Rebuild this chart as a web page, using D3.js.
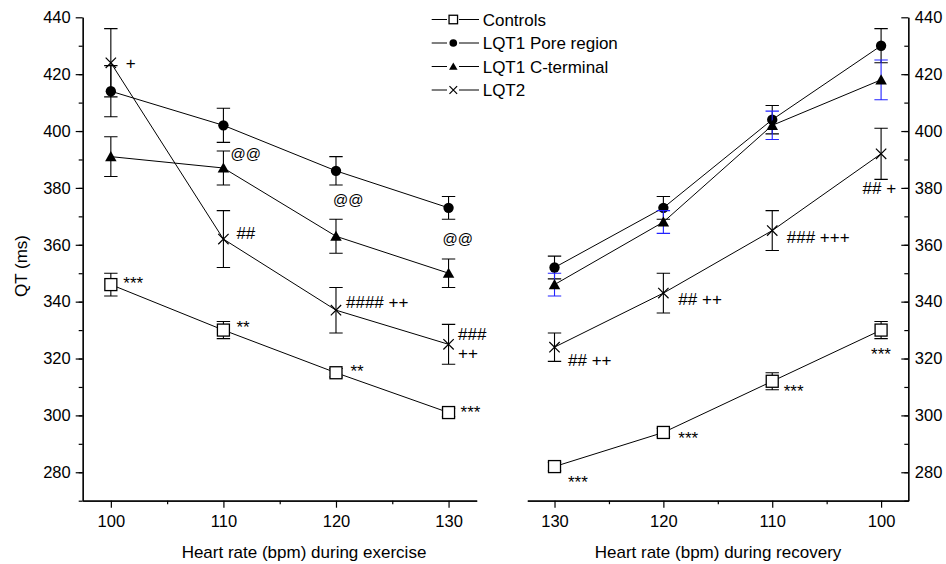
<!DOCTYPE html>
<html>
<head>
<meta charset="utf-8">
<script src="https://cdn.jsdelivr.net/npm/d3@7"></script>
<style>
  body { margin: 0; background: #fff; }
  text { font-family: "Liberation Sans", Arial, sans-serif; }
</style>
</head>
<body>
<script>
const WIDTH = 946;
const HEIGHT = 564;

// heart rate categories
const exerciseRates = [100, 110, 120, 130];
const recoveryRates = [130, 120, 110, 100];
const seriesNames = ['Controls', 'LQT1 Pore region', 'LQT1 C-terminal', 'LQT2'];
const yTicks = [280, 300, 320, 340, 360, 380, 400, 420, 440];

// QT (ms), exercise
const exControls = [346, 330, 315, 301];
const exControlsErr = [4, 3, 1.5, 1.5];
const exPore = [414, 402, 386, 373];
const exPoreErr = [9, 6, 5, 4];
const exCterm = [391, 387, 363, 350];
const exCtermErr = [7, 6, 6, 5];
const exLqt2 = [424, 362, 337, 325];
const exLqt2Err = [12, 10, 8, 7];

// QT (ms), recovery
const recControls = [282, 294, 312, 330];
const recControlsErr = [1.5, 1.5, 3, 3];
const recPore = [352, 373, 404, 430];
const recPoreErr = [4, 4, 5, 6];
const recCterm = [346, 368, 402, 418];
const recCtermErr = [4, 4, 5, 7];
const recLqt2 = [324, 343, 365, 392];
const recLqt2Err = [5, 7, 7, 9];

// significance marks: [panel, series, point index, text]
const notes = [
  ['ex', 3, 0, '+'], ['ex', 0, 0, '***'], ['ex', 2, 1, '@@'], ['ex', 3, 1, '##'],
  ['ex', 0, 1, '**'], ['ex', 1, 2, '@@'], ['ex', 1, 3, '@@'], ['ex', 3, 2, '#### ++'],
  ['ex', 3, 3, '###'], ['ex', 3, 3, '++'], ['ex', 0, 2, '**'], ['ex', 0, 3, '***'],
  ['rec', 3, 0, '## ++'], ['rec', 3, 1, '## ++'], ['rec', 3, 2, '### +++'], ['rec', 3, 3, '## +'],
  ['rec', 0, 0, '***'], ['rec', 0, 1, '***'], ['rec', 0, 2, '***'], ['rec', 0, 3, '***'],
];
// pixel offsets of each mark from its point
const noteOffsets = [
  [15, 5.8], [12.5, 4], [7, -9.3], [13, 0.3],
  [13, 2.8], [-3, 34.6], [-6, 36.6], [10, -2.1],
  [9.5, -4.2], [9.5, 14.3], [14.5, 4.2], [12, 5.5],
  [13.5, 18.7], [15, 12], [14.5, 12.9], [-18.5, 40.2],
  [13.5, 21.4], [15, 11.2], [11.5, 15.7], [-10, 30.2],
];

const svg = d3.select('body').append('svg')
  .attr('width', WIDTH)
  .attr('height', HEIGHT)
  .style('background', '#fff');

const y = d3.scaleLinear().domain([270, 440]).range([500.7, 17.3]);
const xEx = d3.scaleLinear().domain([97.5, 132.5]).range([82.7, 476.7]);
const xRec = d3.scaleLinear().domain([132.5, 97.5]).range([527.3, 908.3]);

function styleAxis(g) {
  g.attr('font-family', null).attr('font-size', null);
  g.selectAll('path, line').attr('stroke', '#000').attr('stroke-width', 1.2);
  g.selectAll('text').style('font-size', '16.5px').attr('fill', '#000');
}

// left panel axes
svg.append('g').attr('transform', 'translate(82.7,0)')
  .call(d3.axisLeft(y).tickValues(d3.range(270, 440, 10)).tickSize(4).tickSizeOuter(0).tickFormat(''))
  .call(styleAxis);
svg.append('g').attr('transform', 'translate(82.7,0)')
  .call(d3.axisLeft(y).tickValues(yTicks).tickSize(7).tickPadding(5).tickSizeOuter(0))
  .call(styleAxis);
svg.append('g').attr('transform', 'translate(0,500.7)')
  .call(d3.axisBottom(xEx).tickValues([105, 115, 125]).tickSize(3.5).tickSizeOuter(0).tickFormat(''))
  .call(styleAxis);
svg.append('g').attr('transform', 'translate(0,500.7)')
  .call(d3.axisBottom(xEx).tickValues(exerciseRates).tickSize(7).tickPadding(8).tickSizeOuter(0))
  .call(styleAxis);

// right panel axes
svg.append('g').attr('transform', 'translate(908.3,0)')
  .call(d3.axisRight(y).tickValues(d3.range(270, 440, 10)).tickSizeInner(-4).tickSizeOuter(0).tickFormat(''))
  .call(styleAxis);
svg.append('g').attr('transform', 'translate(908.3,0)')
  .call(d3.axisRight(y).tickValues(yTicks).tickSizeInner(-7).tickPadding(6.5).tickSizeOuter(0))
  .call(styleAxis);
svg.append('g').attr('transform', 'translate(0,500.7)')
  .call(d3.axisBottom(xRec).tickValues([125, 115, 105]).tickSize(3.5).tickSizeOuter(0).tickFormat(''))
  .call(styleAxis);
svg.append('g').attr('transform', 'translate(0,500.7)')
  .call(d3.axisBottom(xRec).tickValues(recoveryRates).tickSize(7).tickPadding(8).tickSizeOuter(0))
  .call(styleAxis);

// axis titles
svg.append('text')
  .attr('transform', 'translate(27,266) rotate(-90)')
  .attr('text-anchor', 'middle')
  .style('font-size', '17px')
  .text('QT (ms)');
svg.append('text')
  .attr('x', 304).attr('y', 558)
  .attr('text-anchor', 'middle')
  .style('font-size', '17px')
  .text('Heart rate (bpm) during exercise');
svg.append('text')
  .attr('x', 718).attr('y', 558)
  .attr('text-anchor', 'middle')
  .style('font-size', '17px')
  .text('Heart rate (bpm) during recovery');

// markers
function drawMarker(g, kind, cx, cy, s) {
  if (kind === 0) {
    g.append('rect')
      .attr('x', cx - s / 2).attr('y', cy - s / 2)
      .attr('width', s).attr('height', s)
      .attr('fill', '#fff').attr('stroke', '#000').attr('stroke-width', 1.3);
  } else if (kind === 1) {
    g.append('circle')
      .attr('cx', cx).attr('cy', cy).attr('r', s * 0.45)
      .attr('fill', '#000');
  } else if (kind === 2) {
    const h = s * 0.88;
    g.append('path')
      .attr('d', `M${cx},${cy - h * 0.55}L${cx + s / 2},${cy + h * 0.45}L${cx - s / 2},${cy + h * 0.45}Z`)
      .attr('fill', '#000');
  } else {
    const r = s * 0.45;
    g.append('path')
      .attr('d', `M${cx - r},${cy - r}L${cx + r},${cy + r}M${cx - r},${cy + r}L${cx + r},${cy - r}`)
      .attr('stroke', '#000').attr('stroke-width', 1.2).attr('fill', 'none');
  }
}

function drawPanel(x, rates, values, errs, barColors) {
  const g = svg.append('g');
  values.forEach((vals, k) => {
    const pts = rates.map((r, i) => ({ x: x(r), y: y(vals[i]), e: errs[k][i], v: vals[i] }));
    // error bars
    pts.forEach(p => {
      const top = y(p.v + p.e), bot = y(p.v - p.e);
      g.append('path')
        .attr('d', `M${p.x},${top}L${p.x},${bot}M${p.x - 6.7},${top}L${p.x + 6.7},${top}M${p.x - 6.7},${bot}L${p.x + 6.7},${bot}`)
        .attr('stroke', barColors[k]).attr('stroke-width', 1.1).attr('fill', 'none');
    });
    g.append('path')
      .datum(pts)
      .attr('d', d3.line().x(d => d.x).y(d => d.y))
      .attr('fill', 'none').attr('stroke', '#000').attr('stroke-width', 1);
    pts.forEach(p => drawMarker(g, k, p.x, p.y, k === 0 ? 12 : 11.5));
  });
}

drawPanel(xEx, exerciseRates,
  [exControls, exPore, exCterm, exLqt2],
  [exControlsErr, exPoreErr, exCtermErr, exLqt2Err],
  ['#000', '#000', '#000', '#000']);
drawPanel(xRec, recoveryRates,
  [recControls, recPore, recCterm, recLqt2],
  [recControlsErr, recPoreErr, recCtermErr, recLqt2Err],
  ['#000', '#000', '#2323ff', '#000']);

// significance marks
const exVals = [exControls, exPore, exCterm, exLqt2];
const recVals = [recControls, recPore, recCterm, recLqt2];
notes.forEach((n, j) => {
  const [panel, s, i, txt] = n;
  const x = panel === 'ex' ? xEx(exerciseRates[i]) : xRec(recoveryRates[i]);
  const v = panel === 'ex' ? exVals[s][i] : recVals[s][i];
  svg.append('text')
    .attr('x', x + noteOffsets[j][0])
    .attr('y', y(v) + noteOffsets[j][1])
    .style('font-size', txt === '@@' ? '15px' : '17px')
    .text(txt);
});

// legend
const legend = svg.append('g');
seriesNames.forEach((name, k) => {
  const ly = 19.5 + k * 23.5;
  legend.append('line').attr('x1', 431.7).attr('x2', 479).attr('y1', ly).attr('y2', ly)
    .attr('stroke', '#000').attr('stroke-width', 1);
  legend.append('rect').attr('x', 447).attr('y', ly - 6).attr('width', 12).attr('height', 12).attr('fill', '#fff');
  drawMarker(legend, k, 453.3, ly, 8.5);
  legend.append('text').attr('x', 482.7).attr('y', ly + 6)
    .style('font-size', '17px').text(name);
});
</script>
</body>
</html>
